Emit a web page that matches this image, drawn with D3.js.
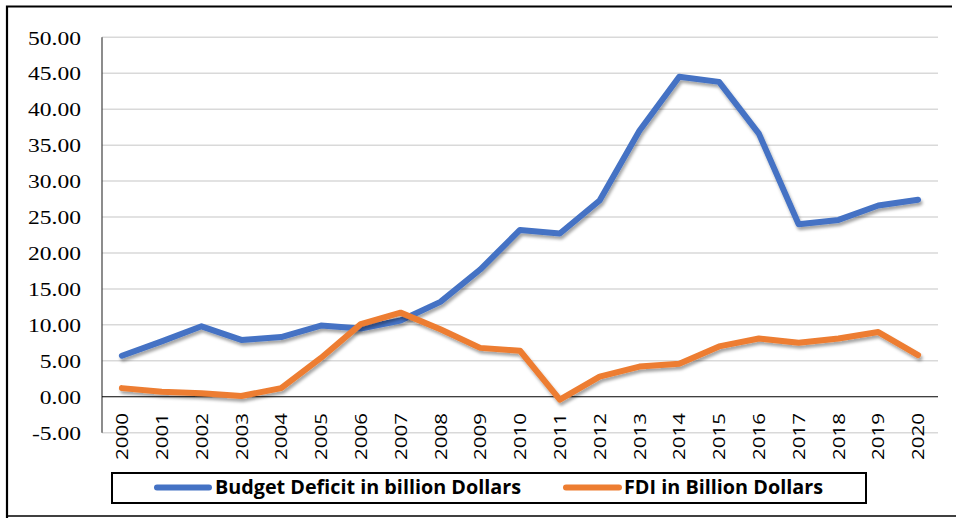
<!DOCTYPE html>
<html>
<head>
<meta charset="utf-8">
<script src="https://cdn.jsdelivr.net/npm/d3@7"></script>
<style>
  html, body { margin: 0; padding: 0; background: #fff; }
  svg { display: block; }
</style>
</head>
<body>
<svg id="chart" width="956" height="518"></svg>
<script>
// ---- data ----
const years = ["2000","2001","2002","2003","2004","2005","2006","2007","2008","2009","2010",
               "2011","2012","2013","2014","2015","2016","2017","2018","2019","2020"];
const budgetDeficit = [5.7, 7.7, 9.8, 7.9, 8.3, 9.9, 9.5, 10.6, 13.2, 17.7, 23.2,
                       22.7, 27.3, 37.0, 44.5, 43.8, 36.6, 24.0, 24.6, 26.6, 27.4];
const fdi = [1.2, 0.7, 0.5, 0.1, 1.2, 5.4, 10.1, 11.7, 9.4, 6.8, 6.4,
             -0.4, 2.8, 4.2, 4.6, 7.0, 8.1, 7.5, 8.1, 9.0, 5.8];
const yTicks = [-5, 0, 5, 10, 15, 20, 25, 30, 35, 40, 45, 50];
const seriesNames = ["Budget Deficit in billion Dollars", "FDI in Billion Dollars"];
const seriesColors = ["#4472C4", "#ED7D31"];

// ---- layout ----
const svg = d3.select("#chart");
const plotLeft = 102, plotRight = 938, plotTop = 37.3, plotBottom = 432.7;

const x = d3.scaleBand().domain(years).range([plotLeft, plotRight]);
const y = d3.scaleLinear().domain([-5, 50]).range([plotBottom, plotTop]);

// outer border
svg.append("path")
  .attr("d", "M7,518 L7,6.5 L952,6.5")
  .attr("fill", "none").attr("stroke", "#000").attr("stroke-width", 2.2);
svg.append("line")
  .attr("x1", 7).attr("x2", 956).attr("y1", 516).attr("y2", 516)
  .attr("stroke", "#000").attr("stroke-width", 1.5);

// shadow filter
const defs = svg.append("defs");
const f = defs.append("filter").attr("id", "shadow")
  .attr("x", "-10%").attr("y", "-10%").attr("width", "120%").attr("height", "130%");
f.append("feDropShadow").attr("dx", 1.5).attr("dy", 3).attr("stdDeviation", 1.8)
  .attr("flood-color", "#000").attr("flood-opacity", 0.35);

// gridlines
svg.append("g").selectAll("line")
  .data(yTicks.filter(d => d !== 0))
  .join("line")
  .attr("x1", plotLeft).attr("x2", plotRight)
  .attr("y1", d => y(d)).attr("y2", d => y(d))
  .attr("stroke", "#d9d9d9").attr("stroke-width", 1.5);

// y axis line
svg.append("line")
  .attr("x1", plotLeft).attr("x2", plotLeft).attr("y1", plotTop).attr("y2", plotBottom)
  .attr("stroke", "#404040").attr("stroke-width", 1.2);

// zero line
svg.append("line")
  .attr("x1", plotLeft).attr("x2", plotRight).attr("y1", y(0)).attr("y2", y(0))
  .attr("stroke", "#000").attr("stroke-width", 1.2);

// y tick labels
svg.append("g").selectAll("text")
  .data(yTicks)
  .join("text")
  .attr("transform", d => `translate(81,${y(d) + 7.2}) scale(1.24,1)`)
  .attr("text-anchor", "end")
  .attr("font-family", "'Liberation Serif', 'Times New Roman', serif")
  .attr("font-size", 19)
  .attr("fill", "#000")
  .text(d => d.toFixed(2));

// x tick labels
svg.append("g").selectAll("text")
  .data(years)
  .join("text")
  .attr("transform", d => `translate(${x(d) + x.bandwidth() / 2 + 6.2},413) rotate(-90) scale(1.21,1)`)
  .attr("text-anchor", "end")
  .attr("font-family", "'Open Sans', sans-serif")
  .attr("font-size", 17)
  .attr("fill", "#000")
  .text(d => d);

// lines
const line = d3.line()
  .x((d, i) => x(years[i]) + x.bandwidth() / 2)
  .y(d => y(d));

[budgetDeficit, fdi].forEach((vals, k) => {
  svg.append("path")
    .datum(vals)
    .attr("d", line)
    .attr("fill", "none")
    .attr("stroke", seriesColors[k])
    .attr("stroke-width", 6)
    .attr("stroke-linejoin", "round")
    .attr("stroke-linecap", "round")
    .attr("filter", "url(#shadow)");
});

// legend
const lg = svg.append("g");
lg.append("rect")
  .attr("x", 112).attr("y", 473).attr("width", 754).attr("height", 30)
  .attr("fill", "#fff").attr("stroke", "#000").attr("stroke-width", 2);
const legendItems = [
  { x1: 157, x2: 209, tx: 215, tl: 306 },
  { x1: 566, x2: 619, tx: 624, tl: 199 }
];
legendItems.forEach((it, k) => {
  lg.append("line")
    .attr("x1", it.x1).attr("x2", it.x2).attr("y1", 487.5).attr("y2", 487.5)
    .attr("stroke", seriesColors[k]).attr("stroke-width", 6)
    .attr("stroke-linecap", "round");
  lg.append("text")
    .attr("x", it.tx).attr("y", 494)
    .attr("font-family", "'Open Sans', sans-serif")
    .attr("font-weight", "bold")
    .attr("font-size", 19.5)
    .attr("textLength", it.tl)
    .attr("lengthAdjust", "spacingAndGlyphs")
    .attr("fill", "#000")
    .text(seriesNames[k]);
});
</script>
</body>
</html>
